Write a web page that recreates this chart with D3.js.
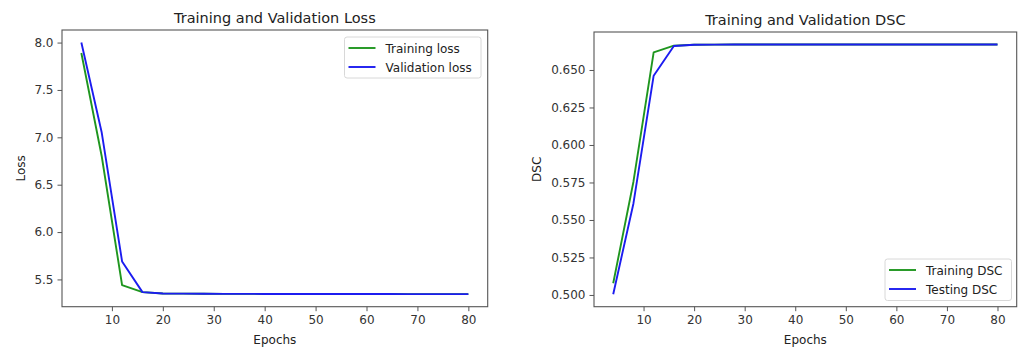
<!DOCTYPE html>
<html>
<head>
<meta charset="utf-8">
<script src="https://cdn.jsdelivr.net/npm/d3@7"></script>
<style>
  html, body { margin: 0; padding: 0; background: #fff; }
  svg { display: block; font-family: "DejaVu Sans", sans-serif; }
</style>
</head>
<body>
<svg id="chart" width="1020" height="347"></svg>
<script>
// ---- data ----
const epochs = [4, 8, 12, 16, 20, 24, 28, 32, 36, 40, 44, 48, 52, 56, 60, 64, 68, 72, 76, 80];
const trainLoss = [7.89, 6.80, 5.44, 5.366, 5.352, 5.350, 5.349, 5.348, 5.348, 5.347, 5.347, 5.347, 5.346, 5.346, 5.346, 5.346, 5.345, 5.345, 5.345, 5.345];
const valLoss   = [8.00, 7.05, 5.69, 5.366, 5.352, 5.350, 5.349, 5.348, 5.348, 5.347, 5.347, 5.347, 5.346, 5.346, 5.346, 5.346, 5.345, 5.345, 5.345, 5.345];
const trainDSC  = [0.5078, 0.5755, 0.6618, 0.6662, 0.6668, 0.6669, 0.6670, 0.6670, 0.6670, 0.6670, 0.6670, 0.6670, 0.6670, 0.6670, 0.6670, 0.6670, 0.6670, 0.6670, 0.6670, 0.6670];
const testDSC   = [0.5005, 0.5610, 0.6462, 0.6660, 0.6668, 0.6669, 0.6670, 0.6670, 0.6670, 0.6670, 0.6670, 0.6670, 0.6670, 0.6670, 0.6670, 0.6670, 0.6670, 0.6670, 0.6670, 0.6670];
const xTicks = [10, 20, 30, 40, 50, 60, 70, 80];
const lossTicks = [5.5, 6.0, 6.5, 7.0, 7.5, 8.0];
const dscTicks = [0.500, 0.525, 0.550, 0.575, 0.600, 0.625, 0.650];

const GREEN = "#1f961f";
const BLUE = "#1c1cf0";
const TXT = "#333";
const AX = "#555";

const svg = d3.select("#chart");

function pad(ext) {
  const p = (ext[1] - ext[0]) * 0.05;
  return [ext[0] - p, ext[1] + p];
}

function panel(opt) {
  const g = svg.append("g");
  const x = d3.scaleLinear().domain(pad(d3.extent(epochs))).range([opt.x0, opt.x1]);
  const allY = opt.series.flatMap(s => s.values);
  const y = d3.scaleLinear().domain(pad(d3.extent(allY))).range([opt.y1, opt.y0]);

  // lines
  const line = vals => d3.line().x((d, i) => x(epochs[i])).y(d => y(d))(vals);
  opt.series.forEach(s => {
    g.append("path").attr("d", line(s.values)).attr("fill", "none")
      .attr("stroke", s.color).attr("stroke-width", 1.9).attr("stroke-linejoin", "round");
  });

  // axes
  const xa = g.append("g").attr("transform", `translate(0,${opt.y1})`)
    .call(d3.axisBottom(x).tickValues(xTicks).tickSize(4.5).tickPadding(4).tickFormat(d3.format("d")));
  const ya = g.append("g").attr("transform", `translate(${opt.x0},0)`)
    .call(d3.axisLeft(y).tickValues(opt.yTicks).tickSize(4.5).tickPadding(4).tickFormat(d3.format(opt.fmt)));
  [xa, ya].forEach(a => {
    a.select(".domain").remove();
    a.selectAll("line").attr("stroke", AX).attr("stroke-width", 1);
    a.selectAll("text").attr("fill", TXT).style("font-size", "12px").style("font-family", "DejaVu Sans, sans-serif");
  });

  // frame
  g.append("rect").attr("x", opt.x0).attr("y", opt.y0)
    .attr("width", opt.x1 - opt.x0).attr("height", opt.y1 - opt.y0)
    .attr("fill", "none").attr("stroke", AX).attr("stroke-width", 1.1);

  // title
  g.append("text").attr("x", (opt.x0 + opt.x1) / 2).attr("y", opt.y0 - 7)
    .attr("text-anchor", "middle").attr("fill", "#222").style("font-size", "14.5px").text(opt.title);
  // x label
  g.append("text").attr("x", (opt.x0 + opt.x1) / 2).attr("y", 344)
    .attr("text-anchor", "middle").attr("fill", "#222").style("font-size", "12px").text("Epochs");
  // y label
  g.append("text").attr("transform", `translate(${opt.ylx},${(opt.y0 + opt.y1) / 2}) rotate(-90)`)
    .attr("text-anchor", "middle").attr("fill", "#222").style("font-size", "12px").text(opt.ylabel);

  // legend
  const L = opt.legend;
  g.append("rect").attr("x", L.x).attr("y", L.y).attr("width", L.w).attr("height", L.h)
    .attr("rx", 2.5).attr("fill", "#fff").attr("fill-opacity", 0.85).attr("stroke", "#d8d8d8").attr("stroke-width", 1);
  opt.series.forEach((s, i) => {
    const cy = L.y + 11 + i * 19;
    g.append("line").attr("x1", L.x + 4).attr("x2", L.x + 31).attr("y1", cy).attr("y2", cy)
      .attr("stroke", s.color).attr("stroke-width", 1.9);
    g.append("text").attr("x", L.x + 41).attr("y", cy + 4.5).attr("fill", "#222")
      .style("font-size", "12px").text(s.name);
  });
}

panel({
  x0: 62, x1: 487.7, y0: 30, y1: 306.7,
  title: "Training and Validation Loss", ylabel: "Loss", ylx: 25,
  yTicks: lossTicks, fmt: ".1f",
  series: [
    { name: "Training loss", values: trainLoss, color: GREEN },
    { name: "Validation loss", values: valLoss, color: BLUE }
  ],
  legend: { x: 344.5, y: 37, w: 136.5, h: 41 }
});

panel({
  x0: 594, x1: 1016.7, y0: 32, y1: 306.7,
  title: "Training and Validation DSC", ylabel: "DSC", ylx: 541,
  yTicks: dscTicks, fmt: ".3f",
  series: [
    { name: "Training DSC", values: trainDSC, color: GREEN },
    { name: "Testing DSC", values: testDSC, color: BLUE }
  ],
  legend: { x: 885, y: 259, w: 126.5, h: 41.5 }
});
</script>
</body>
</html>
